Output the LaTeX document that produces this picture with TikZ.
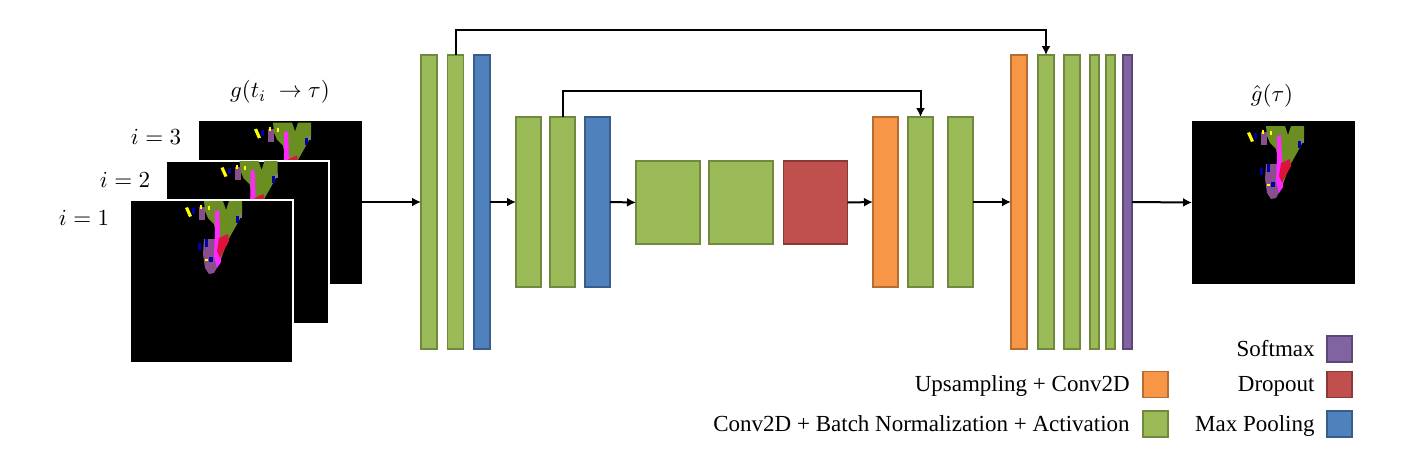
\RequirePackage{fix-cm}
\documentclass[tikz,border=0pt]{standalone}
\usepackage{fontspec}
\setmainfont{Liberation Serif}
\usetikzlibrary{arrows.meta,positioning}
\definecolor{cgreen}{HTML}{9BBB59}\definecolor{cgreenD}{HTML}{71893F}
\definecolor{cblue}{HTML}{4F81BD}\definecolor{cblueD}{HTML}{385D8A}
\definecolor{corange}{HTML}{F79646}\definecolor{corangeD}{HTML}{B66D31}
\definecolor{cred}{HTML}{C0504D}\definecolor{credD}{HTML}{8C3836}
\definecolor{cpurple}{HTML}{8064A2}\definecolor{cpurpleD}{HTML}{5C4776}
\definecolor{segV}{RGB}{107,142,35}
\definecolor{segM}{RGB}{255,40,255}
\definecolor{segP}{RGB}{135,80,140}
\definecolor{segR}{RGB}{220,20,60}
\definecolor{segB}{RGB}{0,0,170}
\definecolor{segY}{RGB}{255,255,0}
\tikzset{
  bar/.style={rectangle, inner sep=0pt, outer sep=0pt, line width=0.6pt},
  gbar/.style={bar, fill=cgreen, draw=cgreenD},
  bbar/.style={bar, fill=cblue, draw=cblueD},
  obar/.style={bar, fill=corange, draw=corangeD},
  rbar/.style={bar, fill=cred, draw=credD},
  pbar/.style={bar, fill=cpurple, draw=cpurpleD},
  tall/.style={minimum width=8pt, minimum height=147pt},
  thin/.style={minimum width=4.5pt, minimum height=147pt},
  mid/.style={minimum width=12.5pt, minimum height=85pt},
  sq/.style={minimum width=32pt, minimum height=41.5pt},
  swatch/.style={minimum width=12.5pt, minimum height=13pt},
  segimg/.style={rectangle, inner sep=0pt, outer sep=0pt, fill=black, minimum size=81.5pt},
  framed/.style={segimg, draw=white, line width=1pt},
  conn/.style={line width=1pt, -{Latex[length=4.5pt,width=4.5pt]}},
  lgtext/.style={inner sep=0pt, anchor=east, text depth=0.25em, text height=0.95em},
  every node/.append style={font=\fontsize{11.5}{13.8}\selectfont}
}
\newcommand\segmap[2]{%
  \begin{scope}
    \clip (#1.south west) rectangle (#1.north east);
    \begin{scope}[shift={(#1.north west)}]
    \begin{scope}[shift={(0,#2)}]
      \fill[segP] (74,43) -- (87,43) -- (88,70) -- (84,77) -- (79,78) -- (75,72) -- (73,58) -- cycle;
      \fill[segV] (74,5) -- (93,5) -- (96,14) -- (99,5) -- (112,5) -- (112,19) -- (106,30) -- (97,46) -- (90,66) -- (87,45) -- (84,28) -- (78,22) -- (75,15) -- cycle;
      \fill[segM] (85,15) -- (89,14) -- (90,40) -- (91,66) -- (87,72) -- (84,60) -- (85,35) -- cycle;
      \fill[segR] (89,42) -- (98,38) -- (99,45) -- (93,56) -- (90,62) -- (87,55) -- cycle;
      \fill[segP] (69,11) rectangle (75,24);
      \fill[segB] (68,47) rectangle (71,54);
      \fill[segB] (75,43) rectangle (78,51);
      \fill[segB] (62,12) rectangle (65,18);
      \fill[segB] (106,20) rectangle (109,27);
      \fill[segB] (79,61) rectangle (83,66);
      \fill[segY] (55,12) -- (58,11) -- (62,20) -- (59,21) -- cycle;
      \fill[segY] (70,9) rectangle (72,13);
      \fill[segY] (78,10) rectangle (80,14);
      \fill[segY] (75,63) rectangle (78,65);
      \fill[gray] (109,18) rectangle (112,22);
    \end{scope}
    \end{scope}
  \end{scope}}
\begin{document}
\begin{tikzpicture}[x=0.5pt, y=-0.5pt]
\useasboundingbox (0,0) rectangle (1418,473);

% input stack
\node[segimg] (img3) at (280.5,202) {};
\segmap{img3}{-3}
\node[framed] (img2) at (247,242.5) {};
\segmap{img2}{-5}
\node[framed] (img1) at (211.5,281.5) {};
\segmap{img1}{-4}

\node (lg) at (280,92) {$g(t_i\;\to\tau)$};
\node (l3) at (156,137) {$i=3$};
\node (l2) at (125,180) {$i=2$};
\node (l1) at (84,218) {$i=1$};

% encoder
\node[gbar, tall] (e1) at (429,202) {};
\node[gbar, tall] (e2) at (455.5,202) {};
\node[bbar, tall] (e3) at (482,202) {};
\node[gbar, mid] (e4) at (528.5,202) {};
\node[gbar, mid] (e5) at (562.5,202) {};
\node[bbar, mid] (e6) at (597.5,202) {};
% bottleneck
\node[gbar, sq] (b1) at (668,202.5) {};
\node[gbar, sq] (b2) at (741,202.5) {};
\node[rbar, sq] (b3) at (815.5,202.5) {};
% decoder
\node[obar, mid] (d1) at (885.5,202) {};
\node[gbar, mid] (d2) at (920.5,202) {};
\node[gbar, mid] (d3) at (960.5,202) {};
\node[obar, tall] (d4) at (1019,202) {};
\node[gbar, tall] (d5) at (1046,202) {};
\node[gbar, tall] (d6) at (1072,202) {};
\node[gbar, thin] (d7) at (1094.5,202) {};
\node[gbar, thin] (d8) at (1110.5,202) {};
\node[pbar, thin] (d9) at (1127.5,202) {};

% output
\node[segimg] (out) at (1273.5,202.5) {};
\segmap{out}{0}
\node (lout) at (1272,96) {$\hat{g}(\tau)$};

% connectors
\draw[conn] (img3.east) -- (e1.west);
\draw[conn] (e3.east) -- (e4.west);
\draw[conn] (e6.east) -- (b1.west);
\draw[conn] (b3.east) -- (d1.west);
\draw[conn] (d3.east) -- (d4.west);
\draw[conn] (d9.east) -- (out.west);
\draw[conn] (e2.north) -- ++(0,-25) -| (d5.north);
\draw[conn] (e5.north) -- ++(0,-26) -| (d2.north);

% legend
\node[pbar, swatch] (sw1) at (1339.5,349) {};
\node[rbar, swatch] (sw2) at (1339.5,384.5) {};
\node[bbar, swatch] (sw3) at (1339.5,424) {};
\node[obar, swatch] (sw4) at (1155.5,384.5) {};
\node[gbar, swatch] (sw5) at (1155.5,424) {};
\node[lgtext, left=6pt of sw1] (t1) {Softmax};
\node[lgtext, left=6pt of sw2] (t2) {Dropout};
\node[lgtext, left=6pt of sw3] (t3) {Max Pooling};
\node[lgtext, left=6.5pt of sw4] (t4) {Upsampling + Conv2D};
\node[lgtext, left=6.5pt of sw5] (t5) {Conv2D + Batch Normalization + Activation};
\end{tikzpicture}
\end{document}
